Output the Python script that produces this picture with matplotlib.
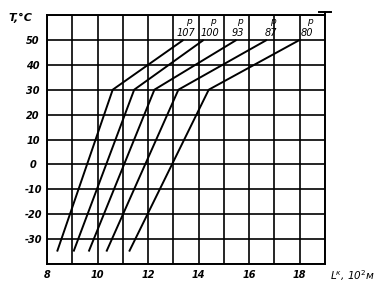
import matplotlib
matplotlib.use("Agg")
import matplotlib.pyplot as plt

# Data
T_points = [-35, 30, 50]
L_107 = [8.4, 10.6, 13.4]
L_100 = [9.05, 11.45, 14.2]
L_93 = [9.65, 12.25, 15.5]
L_87 = [10.35, 13.2, 16.7]
L_80 = [11.25, 14.4, 18.0]
curve_labels = ["107", "100", "93", "87", "80"]
label_x = [13.5, 14.45, 15.55, 16.85, 18.3]

x_ticks = list(range(8, 20))
x_ticklabels = ["8", "", "10", "", "12", "", "14", "", "16", "", "18", ""]
y_ticks = list(range(-40, 61, 10))
y_ticklabels = ["", "-30", "-20", "-10", "0", "10", "20", "30", "40", "50", ""]

fig = plt.figure(figsize=(3.81, 2.97), dpi=100)
ax = fig.add_axes([47/381, 33/297, (325-47)/381, (264-15)/297])

for L in [L_107, L_100, L_93, L_87, L_80]:
    ax.plot(L, T_points, color="black", lw=1.4, solid_capstyle="butt")

ax.set_xlim(8, 19)
ax.set_ylim(-40, 60)
ax.set_xticks(x_ticks)
ax.set_xticklabels(x_ticklabels)
ax.set_yticks(y_ticks)
ax.set_yticklabels(y_ticklabels)
ax.grid(True, color="black", lw=1.2)
ax.set_axisbelow(True)
for s in ax.spines.values():
    s.set_linewidth(1.4)
ax.tick_params(length=0, labelsize=7)
ax.tick_params(axis="y", pad=10)
ax.tick_params(axis="x", pad=4)
for t in ax.get_yticklabels():
    t.set_ha("center")
    t.set_fontweight("bold")
    t.set_fontstyle("italic")
for t in ax.get_xticklabels():
    t.set_fontweight("bold")
    t.set_fontstyle("italic")

for lab, lx in zip(curve_labels, label_x):
    ax.text(lx, 50.8, lab, ha="center", va="bottom", fontsize=7,
            fontstyle="italic")
    ax.text(lx + 0.1, 55.5, "p", ha="center", va="bottom", fontsize=6.5,
            fontstyle="italic")

# small arrow mark at the top of the right axis
ax.plot([19, 19], [60, 61.2], color="black", lw=1.4, clip_on=False)
ax.plot([18.75, 19.25], [61.2, 61.2], color="black", lw=1.4, clip_on=False)

fig.text(8/381, 1 - 18/297, "T,°C", ha="left", va="center", fontsize=8,
         fontstyle="italic", fontweight="bold")
fig.text(330/381, 1 - 276/297, "L$^{к}$, 10$^2$м", ha="left", va="center",
         fontsize=7.5, fontstyle="italic")

fig.savefig("out.png", dpi=100)
